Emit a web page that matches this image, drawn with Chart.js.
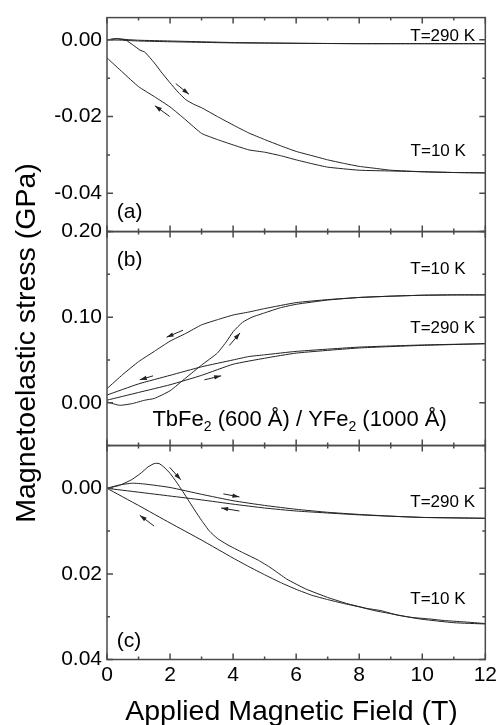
<!DOCTYPE html>
<html>
<head>
<meta charset="utf-8">
<script src="https://cdn.jsdelivr.net/npm/chart.js@4.4.1/dist/chart.umd.min.js"></script>
<style>
  body { margin: 0; background: #fff; }
  #wrap { width: 500px; height: 725px; }
</style>
</head>
<body>
<div id="wrap"><canvas id="stressChart" width="500" height="725"></canvas></div>
<script>
// field sweeps in T, stress in GPa

// (a) T=10 K, field up / field down
const a10UpField = [0, 0.3, 0.6, 0.85, 1.05, 1.2, 1.5, 1.75, 2.0, 2.25, 2.5, 2.75, 3.0, 3.5, 4.0, 4.5, 5.0, 5.5, 6.0, 6.5, 7.0, 7.5, 8.0, 8.5, 9.0, 10.0, 11.0, 12.0];
const a10UpStress = [0, 0.0003, -0.0001, -0.0015, -0.0027, -0.0032, -0.0060, -0.0087, -0.0112, -0.0136, -0.0156, -0.0168, -0.0177, -0.0200, -0.0222, -0.0243, -0.0260, -0.0276, -0.0291, -0.0302, -0.0313, -0.0322, -0.0330, -0.0335, -0.0340, -0.0344, -0.0346, -0.0347];
const a10DownField = [12, 11, 10, 9, 8, 7, 6.5, 6, 5.5, 5, 4.5, 4, 3.5, 3.0, 2.5, 2.0, 1.5, 1.0, 0.5, 0];
const a10DownStress = [-0.0347, -0.0346, -0.0344, -0.0342, -0.0340, -0.0332, -0.0323, -0.0313, -0.0302, -0.0293, -0.0287, -0.0274, -0.0260, -0.0244, -0.0209, -0.0175, -0.0148, -0.0122, -0.0085, -0.0047];

// (a) T=290 K
const a290UpField = [0, 0.3, 0.6, 1, 2, 3, 4, 5, 6, 8, 10, 12];
const a290UpStress = [0, 0.0003, 0.0001, -0.0001, -0.0003, -0.0005, -0.0007, -0.0008, -0.0009, -0.0010, -0.0010, -0.0010];
const a290DownField = [12, 10, 8, 6, 4, 2, 1, 0.5, 0];
const a290DownStress = [-0.0010, -0.0010, -0.0010, -0.0009, -0.0008, -0.0005, -0.0003, -0.0001, 0];

// (b) T=10 K
const b10UpField = [0, 0.4, 0.8, 1.2, 1.5, 2.0, 2.5, 3.0, 3.5, 3.8, 4.0, 4.3, 4.6, 5.0, 5.5, 6.0, 7.0, 8.0, 9.0, 10.0, 11.0, 12.0];
const b10UpStress = [0.001, -0.003, -0.001, 0.003, 0.005, 0.014, 0.029, 0.044, 0.058, 0.072, 0.083, 0.094, 0.100, 0.105, 0.111, 0.115, 0.120, 0.123, 0.1245, 0.1256, 0.126, 0.126];
const b10DownField = [12, 11, 10, 9, 8, 7, 6, 5, 4.5, 4, 3.5, 3, 2.5, 2, 1.5, 1, 0.5, 0];
const b10DownStress = [0.126, 0.126, 0.1256, 0.1245, 0.123, 0.1205, 0.117, 0.110, 0.106, 0.1025, 0.097, 0.091, 0.081, 0.072, 0.060, 0.048, 0.033, 0.0165];

// (b) T=290 K
const b290UpField = [0, 1, 2, 3, 4, 5, 6, 8, 10, 12];
const b290UpStress = [0.003, 0.012, 0.021, 0.032, 0.045, 0.052, 0.058, 0.064, 0.067, 0.069];
const b290DownField = [12, 10, 8, 6, 5, 4.5, 4, 3, 2, 1, 0];
const b290DownStress = [0.069, 0.0675, 0.065, 0.060, 0.056, 0.054, 0.050, 0.042, 0.032, 0.022, 0.009];

// (c) T=10 K
const c10UpField = [0, 0.4, 0.8, 1.1, 1.3, 1.5, 1.65, 1.8, 2.0, 2.2, 2.4, 2.6, 2.8, 3.0, 3.25, 3.5, 3.8, 4.3, 4.8, 5.2, 5.7, 6.3, 7.0, 7.6, 8.2, 8.7, 9.2, 9.7, 10.2, 10.7, 11.3, 12];
const c10UpStress = [0, -0.0007, -0.0021, -0.0037, -0.0050, -0.0058, -0.0058, -0.0050, -0.0035, -0.0015, 0.0007, 0.0030, 0.0053, 0.0075, 0.0100, 0.0117, 0.0131, 0.0150, 0.0168, 0.0186, 0.0212, 0.0235, 0.0255, 0.0269, 0.0280, 0.0286, 0.0296, 0.0302, 0.0305, 0.0309, 0.0312, 0.0316];
const c10DownField = [12, 11, 10, 9.5, 9, 8.5, 8, 7.5, 7, 6.5, 6, 5.5, 5, 4.5, 4, 3, 2, 1, 0];
const c10DownStress = [0.0317, 0.0314, 0.0306, 0.0300, 0.0293, 0.0286, 0.0277, 0.0269, 0.0260, 0.0250, 0.0236, 0.0220, 0.0202, 0.0183, 0.0163, 0.0121, 0.0081, 0.0040, 0];

// (c) T=290 K
const c290UpField = [0, 0.4, 0.8, 1.2, 2, 3, 4, 5, 6, 7, 8, 9, 10, 11, 12];
const c290UpStress = [0, -0.0008, -0.0012, -0.0010, -0.0002, 0.0014, 0.0029, 0.0040, 0.0049, 0.0056, 0.0061, 0.0065, 0.0068, 0.0069, 0.0070];
const c290DownField = [12, 10, 8, 6, 5, 4, 3, 2, 1, 0];
const c290DownStress = [0.0070, 0.0068, 0.0062, 0.0053, 0.0046, 0.0037, 0.0027, 0.0018, 0.0009, 0];

// axis ticks
const fieldTicks = [0, 1, 2, 3, 4, 5, 6, 7, 8, 9, 10, 11, 12];
const fieldLabels = [0, 2, 4, 6, 8, 10, 12];
const aTicks = [-0.05, -0.04, -0.03, -0.02, -0.01, 0];
const aLabels = [-0.04, -0.02, 0];
const bTicks = [0, 0.05, 0.10, 0.15, 0.20];
const bLabels = [0, 0.10, 0.20];
const cTicks = [-0.01, 0, 0.01, 0.02, 0.03, 0.04];
const cLabels = [0, 0.02, 0.04];

// sweep direction arrows, tail -> head
const arrows = [
  { axis: 'ya', from: [2.18, -0.0114], to: [2.60, -0.0142] },
  { axis: 'ya', from: [1.99, -0.0200], to: [1.52, -0.0172] },
  { axis: 'yb', from: [2.41, 0.0847], to: [1.89, 0.0766] },
  { axis: 'yb', from: [3.88, 0.0669], to: [4.22, 0.0816] },
  { axis: 'yb', from: [1.46, 0.0314], to: [1.04, 0.0268] },
  { axis: 'yb', from: [3.09, 0.0268], to: [3.62, 0.0314] },
  { axis: 'yc', from: [1.99, -0.0049], to: [2.34, -0.0020] },
  { axis: 'yc', from: [1.49, 0.0088], to: [1.04, 0.0063] },
  { axis: 'yc', from: [3.69, 0.0013], to: [4.20, 0.0020] },
  { axis: 'yc', from: [4.20, 0.0053], to: [3.62, 0.0046] }
];

// text notes placed in each panel's own units
const notes = [
  { axis: 'ya', x: 9.62, y: -0.0002, parts: ['T=290 K'], size: 17 },
  { axis: 'ya', x: 9.63, y: -0.0304, parts: ['T=10 K'], size: 17 },
  { axis: 'ya', x: 0.31, y: -0.0465, parts: ['(a)'], size: 21 },
  { axis: 'yb', x: 0.31, y: 0.160, parts: ['(b)'], size: 21 },
  { axis: 'yb', x: 9.62, y: 0.1505, parts: ['T=10 K'], size: 17 },
  { axis: 'yb', x: 9.62, y: 0.0816, parts: ['T=290 K'], size: 17 },
  { axis: 'yb', x: 1.44, y: -0.0273, parts: ['TbFe', '_2', ' (600 Å) / YFe', '_2', ' (1000 Å)'], size: 22 },
  { axis: 'yc', x: 9.62, y: 0.0044, parts: ['T=290 K'], size: 17 },
  { axis: 'yc', x: 9.62, y: 0.0271, parts: ['T=10 K'], size: 17 },
  { axis: 'yc', x: 0.31, y: 0.0371, parts: ['(c)'], size: 21 }
];

const FONT = '"Liberation Sans", Arial, Helvetica, sans-serif';
Chart.defaults.font.family = FONT;
Chart.defaults.color = '#000';

const pts = (xs, ys) => xs.map((x, i) => ({ x: x, y: ys[i] }));

const curve = (xs, ys, axis) => ({
  data: pts(xs, ys),
  yAxisID: axis,
  borderColor: '#222',
  borderWidth: 1,
  pointRadius: 0,
  tension: 0.15,
  fill: false
});

const datasets = [
  curve(a10UpField, a10UpStress, 'ya'),
  curve(a10DownField, a10DownStress, 'ya'),
  curve(a290UpField, a290UpStress, 'ya'),
  curve(a290DownField, a290DownStress, 'ya'),
  curve(b10UpField, b10UpStress, 'yb'),
  curve(b10DownField, b10DownStress, 'yb'),
  curve(b290UpField, b290UpStress, 'yb'),
  curve(b290DownField, b290DownStress, 'yb'),
  curve(c10UpField, c10UpStress, 'yc'),
  curve(c10DownField, c10DownStress, 'yc'),
  curve(c290UpField, c290UpStress, 'yc'),
  curve(c290DownField, c290DownStress, 'yc')
];

const panelAxis = (min, max, ticks, labels, reverse) => ({
  type: 'linear',
  position: 'left',
  stack: 'stress',
  stackWeight: 1,
  min: min,
  max: max,
  reverse: reverse,
  grid: { display: false, drawTicks: false },
  border: { display: false },
  afterBuildTicks: s => { s.ticks = ticks.map(v => ({ value: v })); },
  afterFit: s => { s.width = 107; },
  ticks: {
    autoSkip: false,
    padding: 5,
    font: { size: 21 },
    callback: v => labels.includes(v) ? v.toFixed(2) : ''
  }
});

// frame, inward tick marks, arrows, notes and axis titles
const panelDecor = {
  id: 'panelDecor',
  afterDatasetsDraw(chart) {
    const { ctx, chartArea, scales } = chart;
    const xs = scales.x;
    ctx.save();
    ctx.strokeStyle = '#4a4a4a';
    ctx.lineWidth = 1.5;
    for (const [id, ticks, labels] of [['ya', aTicks, aLabels], ['yb', bTicks, bLabels], ['yc', cTicks, cLabels]]) {
      const s = scales[id];
      ctx.strokeRect(chartArea.left, s.top, chartArea.right - chartArea.left, s.bottom - s.top);
      ctx.beginPath();
      for (const v of fieldTicks) {
        const px = xs.getPixelForValue(v);
        const len = fieldLabels.includes(v) ? 6 : 3;
        ctx.moveTo(px, s.top); ctx.lineTo(px, s.top + len);
        ctx.moveTo(px, s.bottom); ctx.lineTo(px, s.bottom - len);
      }
      for (const v of ticks) {
        const py = s.getPixelForValue(v);
        const len = labels.includes(v) ? 6 : 3;
        ctx.moveTo(chartArea.left, py); ctx.lineTo(chartArea.left + len, py);
        ctx.moveTo(chartArea.right, py); ctx.lineTo(chartArea.right - len, py);
      }
      ctx.stroke();
    }

    ctx.strokeStyle = '#222';
    ctx.fillStyle = '#222';
    ctx.lineWidth = 1;
    for (const a of arrows) {
      const s = scales[a.axis];
      const x1 = xs.getPixelForValue(a.from[0]), y1 = s.getPixelForValue(a.from[1]);
      const x2 = xs.getPixelForValue(a.to[0]), y2 = s.getPixelForValue(a.to[1]);
      const ang = Math.atan2(y2 - y1, x2 - x1);
      ctx.beginPath();
      ctx.moveTo(x1, y1);
      ctx.lineTo(x2, y2);
      ctx.stroke();
      ctx.beginPath();
      ctx.moveTo(x2, y2);
      ctx.lineTo(x2 - 7 * Math.cos(ang) + 2.2 * Math.sin(ang), y2 - 7 * Math.sin(ang) - 2.2 * Math.cos(ang));
      ctx.lineTo(x2 - 7 * Math.cos(ang) - 2.2 * Math.sin(ang), y2 - 7 * Math.sin(ang) + 2.2 * Math.cos(ang));
      ctx.closePath();
      ctx.fill();
    }

    ctx.fillStyle = '#000';
    ctx.textBaseline = 'alphabetic';
    ctx.textAlign = 'left';
    for (const n of notes) {
      const s = scales[n.axis];
      let px = xs.getPixelForValue(n.x);
      const py = s.getPixelForValue(n.y);
      for (const part of n.parts) {
        const sub = part.startsWith('_');
        const txt = sub ? part.slice(1) : part;
        ctx.font = (sub ? Math.round(n.size * 0.62) : n.size) + 'px ' + FONT;
        ctx.fillText(txt, px, sub ? py + 5 : py);
        px += ctx.measureText(txt).width;
      }
    }

    ctx.font = '28.5px ' + FONT;
    ctx.textAlign = 'center';
    ctx.fillText('Applied Magnetic Field (T)', 291.5, 720);
    ctx.translate(35, 343);
    ctx.rotate(-Math.PI / 2);
    ctx.fillText('Magnetoelastic stress (GPa)', 0, 0);
    ctx.restore();
  }
};

new Chart(document.getElementById('stressChart'), {
  type: 'line',
  data: { datasets: datasets },
  options: {
    responsive: false,
    animation: false,
    layout: { padding: { top: 12, right: 13, left: 0, bottom: 0 } },
    plugins: { legend: { display: false }, tooltip: { enabled: false } },
    scales: {
      x: {
        type: 'linear',
        min: 0,
        max: 12,
        grid: { display: false, drawTicks: false },
        border: { display: false },
        afterBuildTicks: s => { s.ticks = fieldTicks.map(v => ({ value: v })); },
        afterFit: s => { s.height = 65.5; },
        ticks: {
          autoSkip: false,
          maxRotation: 0,
          padding: 3,
          font: { size: 21 },
          callback: v => fieldLabels.includes(v) ? String(v) : ''
        }
      },
      // stacked bottom to top: the last one listed sits at the top
      yc: panelAxis(-0.01, 0.04, cTicks, cLabels, true),
      yb: panelAxis(-0.05, 0.20, bTicks, bLabels, false),
      ya: panelAxis(-0.05, 0.0058, aTicks, aLabels, false)
    }
  },
  plugins: [panelDecor]
});
</script>
</body>
</html>
